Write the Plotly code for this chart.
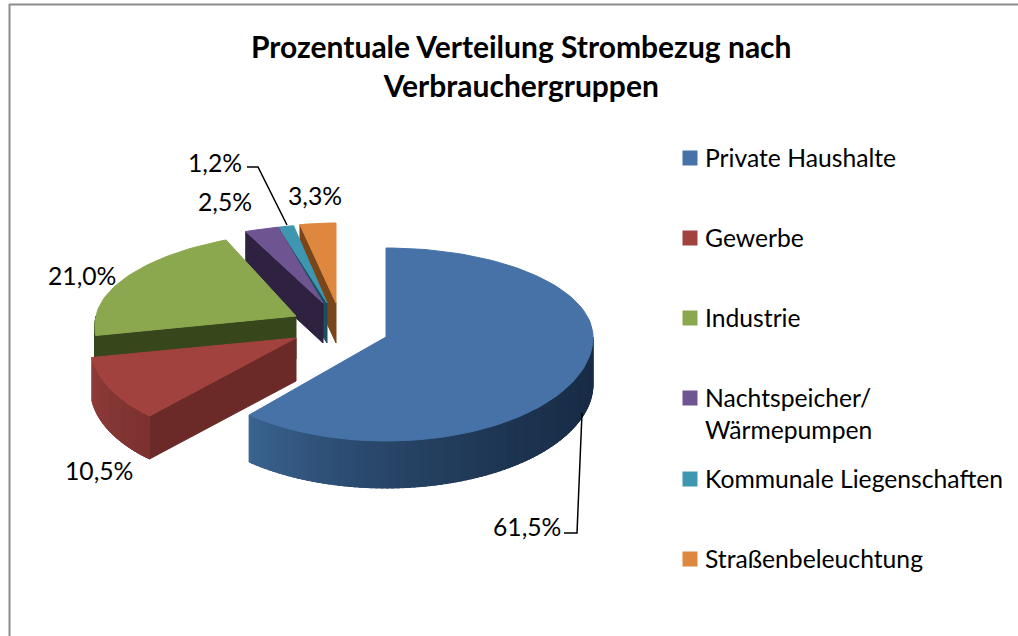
import math
import plotly.graph_objects as go

# ---- data ----
categories = ["Private Haushalte", "Gewerbe", "Industrie",
              "Nachtspeicher/<br>Wärmepumpen", "Kommunale Liegenschaften", "Straßenbeleuchtung"]
values = [61.5, 10.5, 21.0, 2.5, 1.2, 3.3]
title_text = "Prozentuale Verteilung Strombezug nach<br>Verbrauchergruppen"

# ---- styling / layout constants (per slice) ----
top_colors = ["#4672A8", "#A2423F", "#8CA84F", "#6E5490", "#3F96B0", "#DE873E"]
cut_colors = ["#1F3552", "#6B2928", "#37471B", "#2E2240", "#1A4F60", "#7A4518"]
wall_left = ["#3B6491", "#8F3D3B", "#37471B", "#3D2E55", "#245F72", "#8A5020"]
wall_right = ["#182C46", "#7C3230", "#37471B", "#3D2E55", "#245F72", "#8A5020"]
apex_x = [386, 296, 296, 323, 327, 336]
apex_y = [337, 338, 316, 303, 303, 303]
radius_x = [207, 205, 200, 215, 200, 175]
rear_b = [89, 89, 84, 79, 79, 80]
front_b = [104, 104, 104, 104, 104, 104]
shear = [0.0, -0.14, -0.2, -0.2, -0.1, 0.0]
depth = [47, 43, 43, 40, 40, 40]
FONT = "Lato"
LABEL_SIZE = 24.7


def project(i, deg):
    s, c = math.sin(math.radians(deg)), math.cos(math.radians(deg))
    dy = -c * (rear_b[i] if c > 0 else front_b[i])
    return apex_x[i] + radius_x[i] * s + shear[i] * dy, apex_y[i] + dy


def poly(xs, ys, color):
    return go.Scatter(x=xs, y=ys, mode="lines", fill="toself", fillcolor=color,
                      line=dict(color=color, width=1), hoverinfo="skip", showlegend=False)


def mix(a, b, t):
    pa = [int(a[k:k + 2], 16) for k in (1, 3, 5)]
    pb = [int(b[k:k + 2], 16) for k in (1, 3, 5)]
    return "rgb(%d,%d,%d)" % tuple(round(p + (q - p) * t) for p, q in zip(pa, pb))


# angular extents derive from the values
total = sum(values)
starts, ends, acc = [], [], 0.0
for v in values:
    starts.append(acc)
    acc += v / total * 360
    ends.append(acc)

fig = go.Figure()
for i in [5, 4, 3, 2, 1, 0]:
    a0, a1 = starts[i], ends[i]
    d = depth[i]
    # cut face at the start angle
    if i != 0:
        ex, ey = project(i, a0)
        fig.add_trace(poly([apex_x[i], ex, ex, apex_x[i], apex_x[i]],
                           [apex_y[i], ey, ey + d, apex_y[i] + d, apex_y[i]], cut_colors[i]))
    # outer wall (only the part facing the viewer)
    w0, w1 = max(a0, 90), min(a1, 270)
    if w1 > w0:
        n = max(2, int((w1 - w0) / 1.5))
        for k in range(n):
            t0 = w0 + (w1 - w0) * k / n
            t1 = w0 + (w1 - w0) * (k + 1) / n + 1.0
            x0, y0 = project(i, t0)
            x1, y1 = project(i, min(t1, w1))
            span = (a1 - 90) if i == 0 else (a1 - a0)
            base = 90 if i == 0 else a0
            f = (t0 - base) / span
            # wall darkens toward the right side of the pie
            col = mix(wall_right[i], wall_left[i], min(1, f ** 2 if i == 0 else f))
            fig.add_trace(poly([x0, x1, x1, x0, x0], [y0, y1, y1 + d, y0 + d, y0], col))
    # top face
    xs, ys = [apex_x[i]], [apex_y[i]]
    steps = max(4, int((a1 - a0) / 2))
    for k in range(steps + 1):
        px, py = project(i, a0 + (a1 - a0) * k / steps)
        xs.append(px)
        ys.append(py)
    xs.append(apex_x[i])
    ys.append(apex_y[i])
    fig.add_trace(poly(xs, ys, top_colors[i]))

# legend swatches
legend_y = [158, 238, 318, 398, 479, 559]
fig.add_trace(go.Scatter(x=[690] * 6, y=legend_y, mode="markers",
                         marker=dict(symbol="square", size=15, color=top_colors, line=dict(width=0)),
                         hoverinfo="skip", showlegend=False))

annotations = [dict(x=521, y=65, text=title_text, showarrow=False,
                    font=dict(family=FONT, size=30, color="#000000", weight="bold"),
                    align="center", xanchor="center", yanchor="middle")]
legend_text_y = [157, 237, 317, 413, 478, 558]
for name, y in zip(categories, legend_text_y):
    annotations.append(dict(x=703, y=y, text=name, showarrow=False, align="left",
                            font=dict(family=FONT, size=LABEL_SIZE, color="#000000"),
                            xanchor="left", yanchor="middle"))
label_x = [527, 99, 82, 225, 215, 315]
label_y = [526, 470, 275, 201, 162, 195]
for v, x, y in zip(values, label_x, label_y):
    annotations.append(dict(x=x, y=y, text=f"{v:.1f}%".replace(".", ","), showarrow=False,
                            font=dict(family=FONT, size=LABEL_SIZE, color="#000000"),
                            xanchor="center", yanchor="middle"))

shapes = [
    dict(type="line", x0=9.5, x1=9.5, y0=4, y1=636, line=dict(color="#8C8C8C", width=2)),
    dict(type="line", x0=9, x1=1018, y0=4.5, y1=4.5, line=dict(color="#8C8C8C", width=2)),
    dict(type="path", path="M 247 167 L 258 167 L 287 225", line=dict(color="#000000", width=1.5)),
    dict(type="path", path="M 564 533 L 577 533 L 582 413", line=dict(color="#000000", width=1.5)),
]

fig.update_layout(
    width=1018, height=636, margin=dict(l=0, r=0, t=0, b=0),
    paper_bgcolor="#FFFFFF", plot_bgcolor="#FFFFFF", showlegend=False,
    xaxis=dict(range=[0, 1018], visible=False, fixedrange=True),
    yaxis=dict(range=[636, 0], visible=False, fixedrange=True),
    annotations=annotations, shapes=shapes,
)
fig.write_html("out.html", config=dict(displayModeBar=False),
               post_script="document.body.style.margin='0';document.body.style.overflow='hidden';")
